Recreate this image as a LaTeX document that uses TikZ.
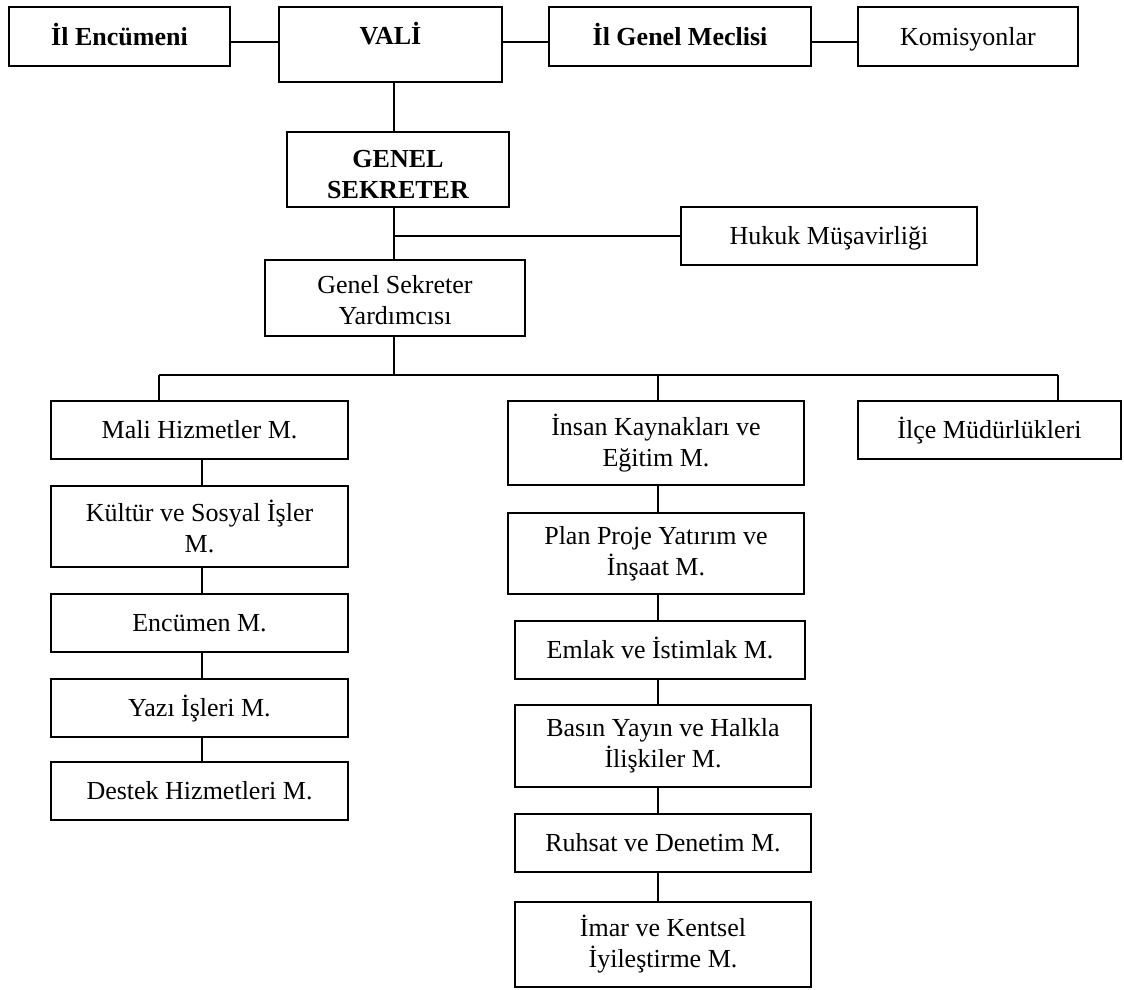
\documentclass[tikz,border=0pt]{standalone}
\usepackage{fontspec}
\setmainfont{Liberation Serif}
\newcommand\orgfont{\fontsize{26}{31}\selectfont}
\begin{document}
\begin{tikzpicture}[x=1pt,y=-1pt,
  box/.style={draw, line width=1.6pt, inner sep=0pt, align=center, font=\orgfont},
  oneline/.style={text height=17pt, text depth=0pt},
  label/.style={inner sep=0pt, align=center, font=\orgfont},
  link/.style={line width=1.6pt}]
\useasboundingbox (0,0) rectangle (1124,989);

% helper coordinates for connector tracks
\coordinate (topy) at (0,42);
\coordinate (trunk) at (394,0);
\coordinate (bus) at (0,375);
\coordinate (busL) at (159,375);
\coordinate (busM) at (658,375);
\coordinate (busR) at (1058,375);
\coordinate (lcol) at (202,0);
\coordinate (mcol) at (658,0);

% top row
\node[box, oneline, minimum width=221pt, minimum height=59pt] (enc) at (119.5,36.5) {\bfseries İl Encümeni};
\node[box, minimum width=223pt, minimum height=75pt] (vali) at (390.5,44.5) {};
\node[label, anchor=base] (valit) at (390.5,44) {\bfseries VALİ};
\node[box, oneline, minimum width=262pt, minimum height=59pt] (igm) at (680,36.5) {\bfseries İl Genel Meclisi};
\node[box, oneline, minimum width=220pt, minimum height=59pt] (kom) at (968,36.5) {Komisyonlar};

% general secretary and deputy
\node[box, minimum width=222pt, minimum height=75pt] (gs) at (398,169.5) {};
\begin{scope}
  \clip (gs.north west) rectangle ([yshift=8pt]gs.south east);
  \node[label] (gst) at (398,174.5) {\bfseries GENEL\\\bfseries SEKRETER};
\end{scope}
\node[box, oneline, minimum width=296pt, minimum height=58pt] (hukuk) at (829,236) {Hukuk Müşavirliği};
\node[box, minimum width=260pt, minimum height=76pt] (gsy) at (395,298) {};
\begin{scope}
  \clip (gsy.north west) rectangle ([yshift=12pt]gsy.south east);
  \node[label] (gsyt) at (395,300) {Genel Sekreter\\Yardımcısı};
\end{scope}

% left column
\node[box, oneline, minimum width=297pt, minimum height=58pt] (mali) at (199.5,430) {Mali Hizmetler M.};
\node[box, minimum width=297pt, minimum height=81pt] (kultur) at (199.5,526.5) {Kültür ve Sosyal İşler\\M.};
\node[box, oneline, minimum width=297pt, minimum height=58pt] (encm) at (199.5,623) {Encümen M.};
\node[box, oneline, minimum width=297pt, minimum height=58pt] (yazi) at (199.5,708) {Yazı İşleri M.};
\node[box, oneline, minimum width=297pt, minimum height=58pt] (destek) at (199.5,791) {Destek Hizmetleri M.};

% middle column
\node[box, minimum width=296pt, minimum height=84pt] (insan) at (656,443) {İnsan Kaynakları ve\\Eğitim M.};
\node[box, minimum width=296pt, minimum height=81pt] (plan) at (656,553.5) {Plan Proje Yatırım ve\\İnşaat M.};
\node[box, oneline, minimum width=290pt, minimum height=58pt] (emlak) at (660,650) {Emlak ve İstimlak M.};
\node[box, minimum width=296pt, minimum height=82pt] (basin) at (663,746) {Basın Yayın ve Halkla\\İlişkiler M.};
\node[box, oneline, minimum width=296pt, minimum height=58pt] (ruhsat) at (663,843) {Ruhsat ve Denetim M.};
\node[box, minimum width=296pt, minimum height=85pt] (imar) at (663,944.5) {İmar ve Kentsel\\İyileştirme M.};

% right column
\node[box, oneline, minimum width=263pt, minimum height=58pt] (ilce) at (989.5,430) {İlçe Müdürlükleri};

% connectors
\draw[link] (enc.east |- topy) -- (vali.west |- topy);
\draw[link] (vali.east |- topy) -- (igm.west |- topy);
\draw[link] (igm.east |- topy) -- (kom.west |- topy);
\draw[link] (trunk |- vali.south) -- (trunk |- gs.north);
\draw[link] (trunk |- gs.south) -- (trunk |- gsy.north);
\draw[link] (trunk |- hukuk.west) -- (hukuk.west);
\draw[link] (trunk |- gsy.south) -- (trunk |- bus);
\draw[link] (busL) -- (busR);
\draw[link] (busL) -- (busL |- mali.north);
\draw[link] (busM) -- (busM |- insan.north);
\draw[link] (busR) -- (busR |- ilce.north);
\foreach \a/\b in {mali/kultur, kultur/encm, encm/yazi, yazi/destek}
  \draw[link] (lcol |- \a.south) -- (lcol |- \b.north);
\foreach \a/\b in {insan/plan, plan/emlak, emlak/basin, basin/ruhsat, ruhsat/imar}
  \draw[link] (mcol |- \a.south) -- (mcol |- \b.north);
\end{tikzpicture}
\end{document}
